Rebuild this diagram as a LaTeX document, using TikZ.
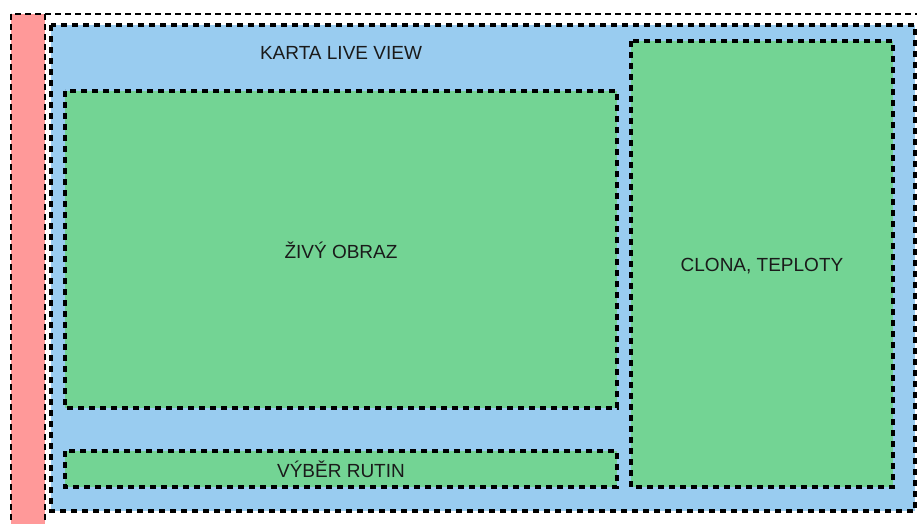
\documentclass[tikz,border=0pt]{standalone}
\usepackage{fontspec}
\setmainfont{Liberation Sans}
\definecolor{redbar}{RGB}{255,153,153}
\definecolor{bluebox}{RGB}{153,204,240}
\definecolor{greenbox}{RGB}{115,212,148}
\definecolor{txt}{RGB}{26,26,26}
\tikzset{
  outerline/.style={line width=1.8pt, dash pattern=on 6pt off 4pt},
  panel/.style={line width=3.2pt, dash pattern=on 6pt off 5pt, line cap=butt},
  lbl/.style={font=\fontsize{19}{22}\selectfont, text=txt, inner sep=0pt}
}
\begin{document}
\begin{tikzpicture}[x=1pt,y=-1pt]
\useasboundingbox (0,0) rectangle (917,523);
\clip (0,0) rectangle (917,523);
% outer dashed frame and red sidebar
\fill[white] (0,0) rectangle (917,523);
\draw[outerline, fill=redbar] (11,14) rectangle (45,540);
\draw[outerline] (45,14) -- (930,14);
% blue card
\draw[panel, fill=bluebox] (51,25) rectangle (915,511);
% green panels
\draw[panel, fill=greenbox] (65,91) rectangle (617,408);
\draw[panel, fill=greenbox] (65,451) rectangle (617,487);
\draw[panel, fill=greenbox] (631,41) rectangle (893,487);
% labels
\node[lbl] (karta) at (341,53) {KARTA LIVE VIEW};
\node[lbl] (obraz) at (341,250) {ŽIVÝ OBRAZ};
\node[lbl] (clona) at (762,266) {CLONA, TEPLOTY};
\node[lbl] (rutin) at (341,469) {VÝBĚR RUTIN};
\end{tikzpicture}
\end{document}
